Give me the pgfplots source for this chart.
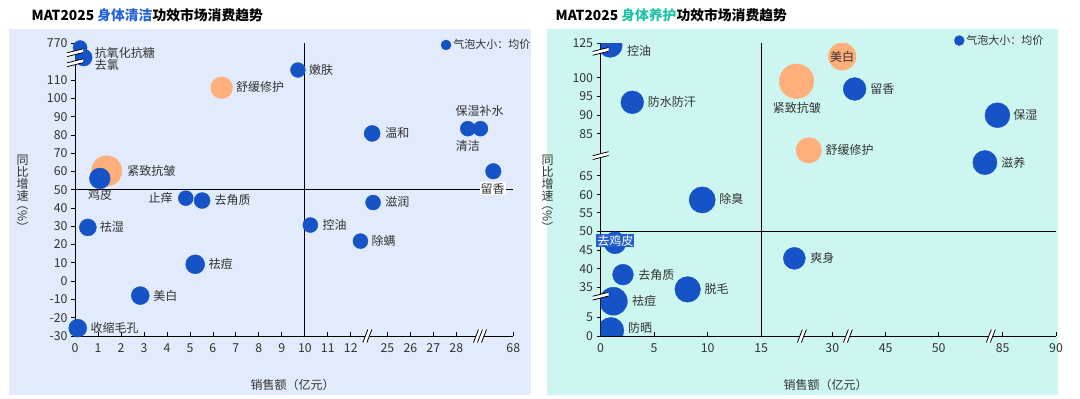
\documentclass[border=0pt]{standalone}
\usepackage{fontspec}
\setmainfont{Noto Sans CJK SC}
\usepackage{pgfplots}
\pgfplotsset{compat=1.18}
\usepackage{pgfplotstable}
\usetikzlibrary{calc}
\definecolor{bluebub}{HTML}{1553C7}
\definecolor{orangebub}{HTML}{FFAF7C}
\definecolor{bgleft}{HTML}{E1EBFB}
\definecolor{bgright}{HTML}{CDF6F1}
\definecolor{titleblue}{HTML}{2563D8}
\definecolor{titleteal}{HTML}{1FC4A6}
\definecolor{txt}{HTML}{333333}

% positions on the broken axes (x: tick-spacing units, y: value units within segments)
\pgfplotstableread{
x y r
0.22 127.8 7
0.375 122.3 8.5
9.70 115.5 7.4
12.93 80.8 8
17.09 83.4 7.5
17.64 83.4 7.5
18.2 60.1 7.8
1.08 56.2 10.4
4.82 45.4 7.5
5.53 44.1 8
12.97 43.0 7.5
0.56 29.4 8.5
10.24 30.7 7.5
12.42 21.9 7.5
5.23 9.2 9.5
2.84 -7.9 9
0.12 -25.7 9
}\Lblue
\pgfplotstableread{
x y r
6.38 105.8 10.9
1.38 60.3 15.2
}\Lorange
\pgfplotstableread{
x y r
0.9 78.6 12
2.96 63.2 11.4
23.73 66.8 11.4
37.07 59.7 12.5
35.9 46.9 12.1
9.49 36.8 13.1
1.35 25.2 11
18.1 21.0 11
2.09 16.6 10.4
8.13 12.6 12.8
1.19 9.4 14
0.96 1.5 13
}\Rblue
\pgfplotstableread{
x y r
18.3 68.9 17.3
22.57 75.6 13.8
19.45 50.2 12.8
}\Rorange

\tikzset{lbl/.style={font=\fontsize{12}{12}\selectfont, text=txt, inner sep=0.5pt}}
\pgfplotsset{
  bub/.style={scatter, only marks, mark=*, color=#1,
    mark options={draw=none, fill=#1},
    scatter/use mapped color={draw=none, fill=#1},
    visualization depends on={\thisrow{r}\as\bubrad},
    scatter/@pre marker code/.append style={/tikz/mark size=\bubrad pt}},
  base/.style={scale only axis, enlargelimits=false, axis lines*=left,
    axis line style={black, line width=0.9pt},
    tick align=outside, major tick length=4pt,
    tick style={black, line width=0.8pt},
    xtick style={yshift=4pt},
    ticklabel style={font=\fontsize{12.3}{12}\selectfont, text=txt},
    legend image code/.code={\fill[bluebub] (0pt,0pt) circle (5pt);},
  },
}

\newcommand{\ybreak}[1]{%
  \fill[white] ($(#1)+(-8pt,-4pt)$) -- ($(#1)+(8pt,0pt)$) -- ($(#1)+(8pt,3.8pt)$) -- ($(#1)+(-8pt,-0.2pt)$) -- cycle;
  \draw[black, line width=0.8pt] ($(#1)+(-8pt,-4pt)$) -- ($(#1)+(8pt,0pt)$) ($(#1)+(-8pt,-0.2pt)$) -- ($(#1)+(8pt,3.8pt)$);}
\newcommand{\xbreak}[1]{%
  \fill[white] ($(#1)+(-4.5pt,-6.5pt)$) -- ($(#1)+(0.5pt,6.5pt)$) -- ($(#1)+(4.5pt,6.5pt)$) -- ($(#1)+(-0.5pt,-6.5pt)$) -- cycle;
  \draw[black, line width=0.8pt] ($(#1)+(-4.5pt,-6.5pt)$) -- ($(#1)+(0.5pt,6.5pt)$) ($(#1)+(-0.5pt,-6.5pt)$) -- ($(#1)+(4.5pt,6.5pt)$);}
\newcommand{\xbreakiii}[1]{%
  \fill[white] ($(#1)+(-6.5pt,-6.5pt)$) -- ($(#1)+(-1.5pt,6.5pt)$) -- ($(#1)+(6.5pt,6.5pt)$) -- ($(#1)+(1.5pt,-6.5pt)$) -- cycle;
  \draw[black, line width=0.8pt] ($(#1)+(-6.5pt,-6.5pt)$) -- ($(#1)+(-1.5pt,6.5pt)$) ($(#1)+(-2.5pt,-6.5pt)$) -- ($(#1)+(2.5pt,6.5pt)$) ($(#1)+(1.5pt,-6.5pt)$) -- ($(#1)+(6.5pt,6.5pt)$);}

\begin{document}
\begin{tikzpicture}
\fill[white] (0pt,0pt) rectangle (1080pt,399pt);
\fill[bgleft] (8.5pt,4pt) rectangle (531pt,370pt);
\fill[bgright] (547pt,4pt) rectangle (1058pt,370pt);

\node[anchor=west, font=\fontsize{13.8}{14}\selectfont\bfseries, inner sep=0pt] at (31.5pt,383.5pt)
  {MAT2025 \textcolor{titleblue}{身体清洁}功效市场消费趋势};
\node[anchor=west, font=\fontsize{13.8}{14}\selectfont\bfseries, inner sep=0pt] at (555.5pt,383.5pt)
  {MAT2025 \textcolor{titleteal}{身体养护}功效市场消费趋势};

\node[font=\fontsize{12}{12}\selectfont, text=txt] at (292.5pt,14pt) {销售额（亿元）};
\node[font=\fontsize{12}{12}\selectfont, text=txt] at (825.5pt,14pt) {销售额（亿元）};
\node[align=center, font=\fontsize{12}{12.3}\selectfont, text=txt, inner sep=0pt] at (22.5pt,205pt)
  {同\\比\\增\\速\\[-15pt]\rotatebox{-90}{（\%）}};
\node[align=center, font=\fontsize{12}{12.3}\selectfont, text=txt, inner sep=0pt] at (547.5pt,205pt)
  {同\\比\\增\\速\\[-15pt]\rotatebox{-90}{（\%）}};

% ---------------- left panel ----------------
\begin{axis}[base, at={(75pt,63pt)}, anchor=south west, width=438.3pt, height=292.5pt,
  xmin=0, xmax=19.07, ymin=-30, ymax=130, clip=false,
  xtick={0,1,2,3,4,5,6,7,8,9,10,11,12,13.59,14.59,15.59,16.59,19.07},
  xticklabels={0,1,2,3,4,5,6,7,8,9,10,11,12,25,26,27,28,68},
  ytick={-30,-20,-10,0,10,20,30,40,50,60,70,80,90,100,110,130},
  yticklabels={-30,-20,-10,0,10,20,30,40,50,60,70,80,90,100,110,770},
  legend style={at={(axis cs:15.91,129.2)}, anchor=west, draw=none, fill=none,
    inner sep=0pt, font=\fontsize{11}{11}\selectfont, text=txt},
]
\draw[black, line width=0.9pt] (axis cs:10,-30) -- (axis cs:10,130);
\draw[black, line width=0.9pt] (axis cs:0,50) -- (axis cs:19.07,50);
\addplot[bub=orangebub, forget plot] table[x=x,y=y] {\Lorange};
\addplot[bub=bluebub] table[x=x,y=y] {\Lblue};
\addlegendentry{气泡大小：均价}
\node[lbl,anchor=west] at (axis cs:0.83,125.0) {抗氧化抗糖};
\node[lbl,anchor=west] at (axis cs:0.83,118.3) {去氯};
\node[lbl,anchor=west] at (axis cs:10.16,115.5) {嫩肤};
\node[lbl,anchor=west] at (axis cs:6.98,106.1) {舒缓修护};
\node[lbl,anchor=west] at (axis cs:13.47,80.8) {温和};
\node[lbl] at (axis cs:17.61,92.9) {保湿补水};
\node[lbl] at (axis cs:17.09,74.0) {清洁};
\node[lbl, fill=white, inner sep=1pt] at (axis cs:18.17,50.7) {留香};
\node[lbl,anchor=west] at (axis cs:2.25,60.3) {紧致抗皱};
\node[lbl] at (axis cs:1.09,46.9) {鸡皮};
\node[lbl,anchor=east] at (axis cs:4.28,45.8) {止痒};
\node[lbl,anchor=west] at (axis cs:6.04,44.5) {去角质};
\node[lbl,anchor=west] at (axis cs:13.47,43.2) {滋润};
\node[lbl,anchor=west] at (axis cs:1.05,29.8) {祛湿};
\node[lbl,anchor=west] at (axis cs:10.74,30.7) {控油};
\node[lbl,anchor=west] at (axis cs:12.87,22.1) {除螨};
\node[lbl,anchor=west] at (axis cs:5.78,9.5) {祛痘};
\node[lbl,anchor=west] at (axis cs:3.38,-7.9) {美白};
\node[lbl,anchor=west] at (axis cs:0.65,-25.7) {收缩毛孔};
\coordinate (Ly1) at (axis cs:0,125);
\coordinate (Ly2) at (axis cs:0,119.5);
\coordinate (Lx1) at (axis cs:12.72,-30);
\coordinate (Lx2) at (axis cs:17.62,-30);
\end{axis}
\ybreak{Ly1}
\ybreak{Ly2}
\xbreak{Lx1}
\xbreakiii{Lx2}

% ---------------- right panel ----------------
\begin{axis}[base, at={(600.6pt,63pt)}, anchor=south west, width=455.4pt, height=292.5pt,
  xmin=0, xmax=42.54, ymin=0, ymax=79.1, clip mode=individual, clip marker paths=true,
  xtick={0,5,10,15,21.64,26.62,31.58,37.56,42.54},
  xticklabels={0,5,10,15,30,45,50,85,90},
  ytick={0,5,13.2,18.2,23.2,28.3,33.3,38.2,43.3,54.7,59.7,64.8,69.8,79.1},
  yticklabels={0,5,35,40,45,50,55,60,65,85,90,95,100,125},
  legend style={at={(axis cs:33.0,79.9)}, anchor=west, draw=none, fill=none,
    inner sep=0pt, font=\fontsize{11}{11}\selectfont, text=txt},
]
\draw[black, line width=0.9pt] (axis cs:15,0) -- (axis cs:15,79.1);
\draw[black, line width=0.9pt] (axis cs:0,28.3) -- (axis cs:42.54,28.3);
\addplot[bub=orangebub, forget plot] table[x=x,y=y] {\Rorange};
\addplot[bub=bluebub] table[x=x,y=y] {\Rblue};
\addlegendentry{气泡大小：均价}
\node[lbl,anchor=west] at (axis cs:2.41,77.1) {控油};
\node[lbl,anchor=west] at (axis cs:4.34,63.2) {防水防汗};
\node[lbl] at (axis cs:18.33,61.8) {紧致抗皱};
\node[lbl] at (axis cs:22.57,75.6) {美白};
\node[lbl,anchor=west] at (axis cs:25.14,66.9) {留香};
\node[lbl,anchor=west] at (axis cs:38.5,59.7) {保湿};
\node[lbl,anchor=west] at (axis cs:20.96,50.3) {舒缓修护};
\node[lbl,anchor=west] at (axis cs:37.36,46.9) {滋养};
\node[lbl,anchor=west] at (axis cs:11.03,37.0) {除臭};
\node[lbl, fill=bluebub!92!white, text=white, inner sep=1pt] at (axis cs:1.39,25.8) {去鸡皮};
\node[lbl,anchor=west] at (axis cs:19.52,21.0) {爽身};
\node[lbl,anchor=west] at (axis cs:3.47,16.6) {去角质};
\node[lbl,anchor=west] at (axis cs:9.65,12.6) {脱毛};
\node[lbl,anchor=west] at (axis cs:2.89,9.4) {祛痘};
\node[lbl,anchor=west] at (axis cs:2.51,2.1) {防晒};
\coordinate (Ry1) at (axis cs:0,10.8);
\coordinate (Ry2) at (axis cs:0,48.8);
\coordinate (Ry3) at (axis cs:0,77.0);
\coordinate (Rx1) at (axis cs:18.8,0);
\coordinate (Rx2) at (axis cs:23.1,0);
\coordinate (Rx3) at (axis cs:36.45,0);
\end{axis}
\ybreak{Ry1}
\ybreak{Ry2}
\ybreak{Ry3}
\xbreak{Rx1}
\xbreak{Rx2}
\xbreak{Rx3}
\end{tikzpicture}
\end{document}
